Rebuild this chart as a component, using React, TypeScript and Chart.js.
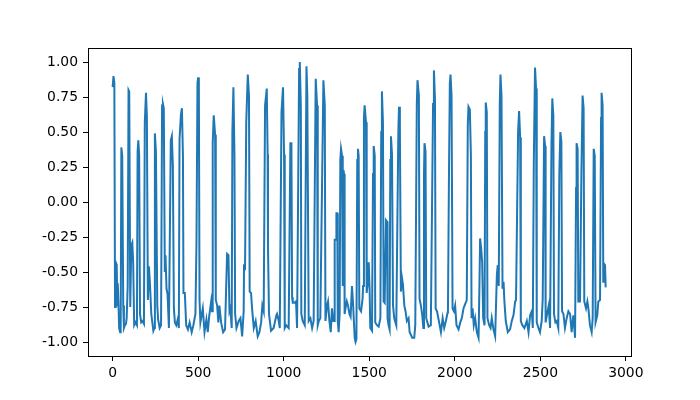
import React, { useEffect, useRef } from "react";
import { Chart, registerables } from "chart.js";

Chart.register(...registerables);

// Sample index (x) and signal amplitude (y)
const sampleIndex: number[] = [
  0, 5, 10, 14, 18, 24, 27, 30, 34, 38, 44, 47, 51, 53, 56, 62, 66, 72, 78, 82, 88, 93, 97, 103, 109, 115, 120, 126, 134, 142,
  146, 150, 155, 160, 167, 175, 183, 188, 195, 200, 206, 212, 218, 226, 232, 238, 244, 247, 253, 261, 266, 275, 283, 289, 294,
  299, 305, 309, 315, 321, 329, 340, 346, 352, 358, 364, 372, 380, 387, 391, 399, 405, 411, 414, 422, 430, 440, 450, 462, 472,
  484, 490, 496, 500, 504, 508, 513, 527, 537, 548, 556, 564, 576, 581, 585, 591, 599, 603, 611, 618, 624, 634, 646, 657, 669,
  677, 683, 688, 696, 700, 706, 712, 716, 724, 737, 747, 757, 766, 768, 774, 781, 790, 797, 801, 809, 815, 825, 836, 848, 858,
  868, 875, 883, 891, 901, 906, 908, 914, 926, 941, 957,
  961, 971, 977, 987, 996, 1002, 1006, 1014, 1029, 1039, 1045, 1049, 1053, 1058, 1064, 1072, 1078, 1090, 1094, 1100, 1103, 1111,
  1123, 1133, 1138, 1146, 1156, 1166, 1175, 1187, 1195, 1199, 1205, 1214, 1232, 1240, 1244, 1253, 1259, 1267, 1275, 1282, 1290,
  1296, 1298, 1306, 1308, 1313, 1316, 1321, 1327, 1331, 1335, 1341, 1345, 1349, 1353, 1356, 1361, 1369, 1376, 1384, 1391, 1399,
  1405, 1415, 1420, 1425, 1430, 1434, 1438, 1442, 1452, 1461,
  1464, 1469, 1473, 1481, 1485, 1491, 1497, 1502, 1506, 1516, 1522, 1526, 1532, 1535, 1545, 1555, 1565, 1570, 1574, 1580, 1584,
  1590, 1598, 1604, 1607, 1613, 1619, 1623, 1627, 1633, 1639, 1646, 1658, 1670, 1674, 1679, 1685, 1691, 1697, 1705, 1712, 1720,
  1730, 1736, 1744, 1751, 1763, 1769, 1778, 1782, 1790, 1794, 1802, 1810, 1816, 1820, 1823, 1829, 1833, 1847, 1860, 1873, 1878,
  1884, 1888, 1896, 1907, 1919, 1929, 1938, 1948, 1958,
  1960, 1966, 1971, 1975, 1981, 1987, 1995, 2002, 2010, 2022, 2032, 2041, 2051, 2057, 2070, 2076, 2080, 2088, 2094, 2098, 2104,
  2111, 2119, 2129, 2139, 2144, 2148, 2154, 2160, 2166, 2174, 2178, 2181, 2187, 2191, 2201, 2209, 2216, 2226, 2236, 2246, 2251,
  2257, 2263, 2267, 2273, 2279, 2285, 2290, 2298, 2310, 2323, 2333, 2343, 2353, 2358, 2370, 2376, 2382, 2386, 2395, 2407, 2421,
  2431, 2440, 2450,
  2456, 2462, 2469, 2475, 2479, 2489, 2498, 2508, 2514, 2522, 2528, 2531, 2541, 2549, 2557, 2565, 2570, 2576, 2580, 2588, 2596,
  2605, 2611, 2617, 2623, 2627, 2635, 2644, 2654, 2664, 2674, 2683, 2693, 2703, 2709, 2712, 2718, 2722, 2732, 2740, 2747, 2753,
  2757, 2767, 2775, 2781, 2790, 2800, 2806, 2812, 2818, 2823, 2833, 2839, 2849, 2855, 2858, 2864, 2868, 2872, 2878, 2882,
];

const amplitude: number[] = [
  0.82, 0.9, 0.85, -0.75, -0.43, -0.45, -0.74, -0.58, -0.72, -0.9, -0.93, -0.92, 0.39, 0.39, 0.33, -0.74, -0.9, -0.88, -0.87, -0.83, -0.6, 0.8, 0.79, -0.75, -0.31, -0.29, -0.43, -0.88, -0.86, -0.88,
  0.36, 0.44, 0.34, -0.8, -0.86, -0.85, -0.87, 0.57, 0.78, 0.62, -0.7, -0.46, -0.58, -0.8, -0.86, -0.92, -0.9, 0.49, 0.36, -0.74, -0.84, -0.9, -0.88, 0.69, 0.7,
  0.67, -0.5, -0.38, -0.62, -0.66, -0.9, 0.44, 0.47, 0.26, -0.76, -0.86, -0.88, -0.84, -0.9, 0.45, 0.62, 0.67, 0.33, -0.65, -0.65, -0.88, -0.91, -0.86, -0.93, -0.88,
  -0.8, -0.3, 0.85, 0.89, 0.8, -0.7, -0.86, -0.76, -0.93, -0.84, -0.93, -0.82, -0.71, -0.78, 0.42, 0.62, 0.48, -0.7, -0.74, -0.86, -0.74, -0.86, -0.93, -0.91, -0.37,
  -0.38, -0.78, -0.76, -0.9, 0.5, 0.82, 0.34, -0.8, -0.9, -0.85, -0.83, -0.96, -0.78, -0.46, -0.47, 0.57, 0.91, 0.76, -0.64, -0.65, -0.76, -0.9, -0.85, -0.96, -0.93,
  -0.86, -0.74, -0.78, 0.69, 0.81, 0.34, -0.31, -0.8, -0.92, -0.9, -0.81,
  -0.8, -0.85, -0.9, 0.64, 0.82, 0.34, -0.9, -0.88, -0.9, 0.42, 0.42, -0.68, -0.72, -0.72, -0.72, -0.71, -0.9, 0.95, 1.0, 0.69, -0.8, -0.85,
  -0.88, 0.97, 0.76, -0.85, -0.83, -0.9, -0.85, 0.88, 0.69, -0.88, -0.85, -0.83, 0.87, 0.69, -0.85, -0.74, -0.71, -0.85, -0.93, -0.76, -0.85,
  -0.85, -0.27, -0.27, -0.08, -0.08, -0.85, -0.93, -0.8, 0.3, 0.38, 0.33, -0.6, 0.23, 0.2, -0.8, -0.76, -0.71, -0.74, -0.8, -0.82, -0.6,
  -0.72, -0.97, -1.0, -0.98, 0.3, 0.38, 0.33, -0.76, -0.78, -0.69,
  -0.6, 0.6, 0.69, 0.57, -0.65, -0.58, -0.43, -0.62, -0.9, -0.92, 0.2, 0.4, 0.33, -0.86, -0.88, -0.89, -0.83, 0.5, 0.79, 0.57, -0.71,
  -0.72, -0.13, -0.14, -0.83, -0.88, -0.91, 0.3, 0.47, 0.34, -0.74, -0.83, -0.88, 0.5, 0.68, 0.53, -0.64, -0.54, -0.59, -0.74, -0.78, -0.85,
  -0.83, -0.93, -0.95, -0.97, -0.97, -0.88, 0.7, 0.87, 0.76, -0.69, -0.74, -0.81, -0.9, 0.2, 0.42, 0.36, -0.83, -0.89, -0.88, 0.7, 0.94,
  0.74, -0.76, -0.78, -0.85, -0.93, -0.83, -0.9, -0.85, -0.79,
  -0.78, 0.2, 0.85, 0.91, 0.76, -0.76, -0.78, -0.74, -0.88, -0.91, -0.86, -0.83, -0.76, -0.74, -0.7, 0.55, 0.68, 0.66, 0.34, -0.83, -0.76,
  -0.88, -0.83, -0.93, -0.97, -0.6, -0.26, -0.33, -0.43, -0.83, -0.88, 0.5, 0.71, 0.64, -0.83, -0.88, -0.9, -0.83, -0.91, -0.96, -0.52, -0.45,
  -0.6, 0.7, 0.91, 0.76, -0.62, -0.57, -0.71, -0.85, -0.93, -0.91, -0.85, -0.81, -0.71, -0.7, 0.5, 0.65, 0.46, -0.85, -0.88, -0.9, -0.85,
  -0.93, -0.81, -0.78,
  -0.9, 0.3, 0.96, 0.81, -0.86, -0.9, -0.93, -0.85, -0.69, 0.47, 0.4, -0.86, -0.79, -0.74, -0.9, 0.4, 0.74, 0.62, -0.8, -0.86, -0.85,
  -0.9, 0.2, 0.5, 0.43, -0.78, -0.8, -0.9, -0.83, -0.78, -0.8, -0.93, -0.81, -0.97, 0.1, 0.42, 0.38, -0.71, -0.71, 0.2, 0.76, 0.67,
  -0.71, -0.76, -0.71, -0.76, -0.88, -0.93, -0.83, 0.38, 0.33, -0.86, -0.81, -0.71, -0.7, 0.6, 0.78, 0.69, -0.57, -0.44, -0.45, -0.61,
];

const xTickValues: number[] = [0, 500, 1000, 1500, 2000, 2500, 3000];
const yTickValues: number[] = [-1, -0.75, -0.5, -0.25, 0, 0.25, 0.5, 0.75, 1];

const framePlugin = {
  id: "frame",
  afterDraw(chart: any) {
    const { ctx, chartArea } = chart;
    ctx.save();
    ctx.strokeStyle = "#000";
    ctx.lineWidth = 1;
    ctx.strokeRect(
      Math.round(chartArea.left) + 0.5,
      Math.round(chartArea.top) + 0.5,
      Math.round(chartArea.right - chartArea.left),
      Math.round(chartArea.bottom - chartArea.top)
    );
    ctx.restore();
  },
};

export default function App() {
  const ref = useRef<HTMLCanvasElement | null>(null);

  useEffect(() => {
    if (!ref.current) return;
    const points = sampleIndex.map((x, i) => ({ x, y: amplitude[i] }));
    const tickFont = { family: "DejaVu Sans", size: 13.9 };
    const chart = new Chart(ref.current, {
      type: "line",
      data: {
        datasets: [
          {
            data: points,
            borderColor: "#1f77b4",
            borderWidth: 2,
            pointRadius: 0,
            tension: 0,
            fill: false,
          },
        ],
      },
      options: {
        responsive: false,
        animation: false,
        parsing: false as any,
        layout: { padding: { left: 0, top: 48, right: 69, bottom: 0 } },
        plugins: { legend: { display: false }, tooltip: { enabled: false } },
        scales: {
          x: {
            type: "linear",
            min: -144,
            max: 3030,
            afterBuildTicks: (s: any) => {
              s.ticks = xTickValues.map((v) => ({ value: v }));
            },
            afterFit: (s: any) => {
              s.height = 44;
            },
            grid: { drawOnChartArea: false, drawTicks: true, tickLength: 5, color: "#000", lineWidth: 1 },
            border: { display: true, color: "#000", width: 1 },
            ticks: {
              autoSkip: false,
              maxRotation: 0,
              padding: 4,
              color: "#000",
              font: tickFont,
              callback: (v: any) => String(v),
            },
          },
          y: {
            type: "linear",
            min: -1.1,
            max: 1.1,
            afterBuildTicks: (s: any) => {
              s.ticks = yTickValues.map((v) => ({ value: v }));
            },
            afterFit: (s: any) => {
              s.width = 88;
            },
            grid: { drawOnChartArea: false, drawTicks: true, tickLength: 5, color: "#000", lineWidth: 1 },
            border: { display: true, color: "#000", width: 1 },
            ticks: {
              autoSkip: false,
              padding: 5,
              color: "#000",
              font: tickFont,
              callback: (v: any) => Number(v).toFixed(2),
            },
          },
        },
      },
      plugins: [framePlugin],
    });
    return () => chart.destroy();
  }, []);

  return (
    <div style={{ position: "fixed", left: 0, top: 0, width: 700, height: 400, background: "#fff" }}>
      <canvas ref={ref} width={700} height={400} style={{ display: "block", width: 700, height: 400 }} />
    </div>
  );
}
